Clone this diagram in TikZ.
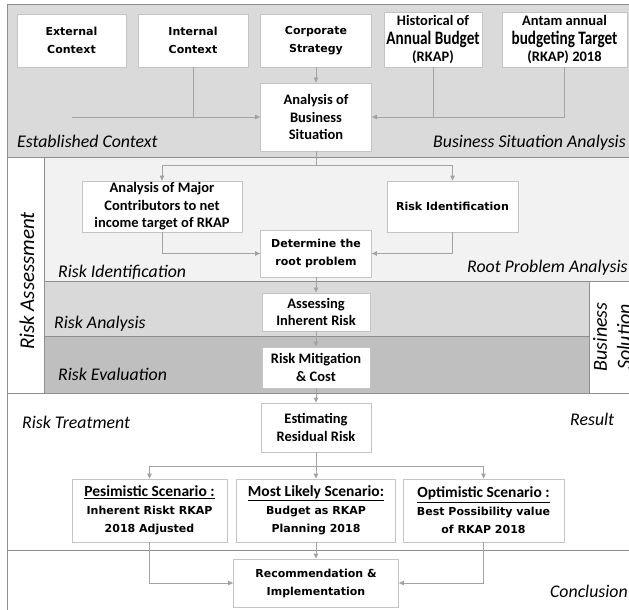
\documentclass[tikz,border=0pt]{standalone}
\usepackage{fontspec}
\setmainfont{Carlito}
\newfontfamily\tahfont{DejaVu Sans}
\usetikzlibrary{arrows.meta, positioning, calc}

\definecolor{bandtop}{HTML}{DADADA}
\definecolor{bandri}{HTML}{F2F2F2}
\definecolor{bandra}{HTML}{D9D9D9}
\definecolor{bandre}{HTML}{BFBFBF}
\definecolor{boxgray}{HTML}{C4C4C4}
\definecolor{linegray}{HTML}{A3A3A3}
\definecolor{bandline}{HTML}{8E8E8E}

\begin{document}
\begin{tikzpicture}[x=1pt, y=-1pt, >={Triangle[length=5pt,width=4.5pt]},
        box/.style={draw=boxgray, fill=white, line width=0.8pt, align=center, inner sep=0pt},
        cal/.style={font=\fontsize{14.5}{17.5}\selectfont\bfseries},
        tah/.style={font=\tahfont\fontsize{11}{18}\selectfont\bfseries},
        lab/.style={font=\fontsize{17.8}{20}\selectfont\itshape, inner sep=0pt},
        conn/.style={draw=linegray, line width=0.8pt},
        band/.style={draw=bandline, line width=0.8pt}]
                                \useasboundingbox (0,0) rectangle (629,610);

                                % Draw the bands
                                \fill[bandtop] (7,4) rectangle (629,157);
                                \fill[bandri] (44,157) rectangle (629,281);
                                \fill[bandra] (44,281) rectangle (589,336);
                                \fill[bandre] (44,336) rectangle (589,393);
                                \fill[white] (589,281) rectangle (629,393);
                                \draw[band] (7,4) -- (629,4);
                                \draw[band] (7,4) -- (7,610);
                                \draw[band] (7,157) -- (629,157);
                                \draw[band] (44,157) -- (44,393);
                                \draw[band] (44,281) -- (629,281);
                                \draw[band] (44,336) -- (589,336);
                                \draw[band] (7,393) -- (629,393);
                                \draw[band] (589,281) -- (589,393);
                                \draw[band] (7,550) -- (629,550);

                                % Band labels
                                \node[lab, anchor=base west] (lEst) at (17,147) {Established Context};
                                \node[lab, anchor=base west] (lBsa) at (433,147) {Business Situation Analysis};
                                \node[lab, anchor=base west] (lRid) at (58,277) {Risk Identification};
                                \node[lab, anchor=base west] (lRpa) at (467,272) {Root Problem Analysis};
                                \node[lab, anchor=base west] (lRan) at (54,328) {Risk Analysis};
                                \node[lab, anchor=base west] (lRev) at (58,380) {Risk Evaluation};
                                \node[lab, anchor=base west] (lRtr) at (22,428) {Risk Treatment};
                                \node[lab, anchor=base west] (lRes) at (570,425) {Result};
                                \node[lab, anchor=base west] (lCon) at (550,597) {Conclusion};
                                \node[lab, font=\fontsize{21}{24}\selectfont\itshape, rotate=90] (lRas) at (27,281) {Risk Assessment};
                                \node[lab, font=\fontsize{20}{24}\selectfont\itshape, rotate=90, align=center] (lBso) at (612,337) {Business\\Solution};

                                % Define the nodes
                                \node[box, tah, minimum width=109pt, minimum height=53pt] (ext) at (71.5,40.5) {External\\Context};
                                \node[box, tah, minimum width=110pt, minimum height=53pt] (int) at (193,40.5) {Internal\\Context};
                                \node[box, tah, minimum width=111pt, minimum height=53pt] (cor) at (316,40.5) {Corporate\\Strategy};
                                \node[box, cal, minimum width=98pt, minimum height=55pt] (his) at (433,39.5)
                                        {Historical of\\[1.5pt]{\fontsize{19}{19}\selectfont\scalebox{0.8}[1]{Annual Budget}}\\(RKAP)};
                                \node[box, cal, minimum width=125pt, minimum height=55pt] (ant) at (564.5,39.5)
                                        {Antam annual\\[1.5pt]{\fontsize{19}{19}\selectfont\scalebox{0.8}[1]{budgeting Target}}\\(RKAP) 2018};
                                \node[box, cal, minimum width=111pt, minimum height=68pt] (ana) at (316,117) {Analysis of\\Business\\Situation};
                                \node[box, cal, minimum width=160pt, minimum height=51pt] (maj) at (162,206.5)
                                        {Analysis of Major\\Contributors to net\\income target of RKAP};
                                \node[box, tah, minimum width=131pt, minimum height=51pt] (rid) at (452.5,206.5) {Risk Identification};
                                \node[box, tah, minimum width=111pt, minimum height=47pt] (det) at (316,253.5) {Determine the\\root problem};
                                \node[box, cal, minimum width=108pt, minimum height=38pt] (ass) at (316,312) {Assessing\\Inherent Risk};
                                \node[box, cal, minimum width=108pt, minimum height=41pt] (mit) at (316,367.5) {Risk Mitigation\\\& Cost};
                                \node[box, cal, minimum width=110pt, minimum height=49pt] (est) at (316,427.5) {Estimating\\Residual Risk};
                                \node[box, tah, minimum width=155pt, minimum height=63pt] (pes) at (149.5,510.5)
                                        {{\rmfamily\fontsize{15.5}{18}\selectfont\underline{Pesimistic Scenario :}}\\Inherent Riskt RKAP\\2018 Adjusted};
                                \node[box, tah, minimum width=159pt, minimum height=63pt] (mos) at (316,510.5)
                                        {{\rmfamily\fontsize{15.5}{18}\selectfont\underline{Most Likely Scenario:}}\\Budget as RKAP\\Planning 2018};
                                \node[box, tah, minimum width=161pt, minimum height=63pt] (opt) at (483.5,510.5)
                                        {{\rmfamily\fontsize{15.5}{18}\selectfont\underline{Optimistic Scenario :}}\\Best Possibility value\\of RKAP 2018};
                                \node[box, tah, minimum width=165pt, minimum height=48pt] (rec) at (316,583) {Recommendation \&\\Implementation};

                                \coordinate (sp1) at (ana.south |- 0,165);
                                \coordinate (sp2) at (est.south |- 0,466);

                                % Draw the edges
                                \draw[conn,->] (cor) -- (ana);
                                \draw[conn] (int) -- (int.south |- ana.west);
                                \draw[conn,->] (ext.south |- ana.west) -- (ana.west);
                                \draw[conn] (his) -- (his.south |- ana.east);
                                \draw[conn,->] (ant.south) |- (ana.east);
                                \draw[conn] (ana) -- (sp1);
                                \draw[conn,->] (sp1) -| (maj);
                                \draw[conn,->] (sp1) -| (rid);
                                \draw[conn,->] (maj) |- (det);
                                \draw[conn,->] (rid) |- (det);
                                \draw[conn,->] (det) -- (ass);
                                \draw[conn,->] (ass) -- (mit);
                                \draw[conn,->] (mit) -- (est);
                                \draw[conn] (est) -- (sp2);
                                \draw[conn,->] (sp2) -| (pes);
                                \draw[conn,->] (sp2) -- (mos);
                                \draw[conn,->] (sp2) -| (opt);
                                \draw[conn,->] (mos) -- (rec);
                                \draw[conn,->] (pes) |- (rec);
                                \draw[conn,->] (opt) |- (rec);
                        \end{tikzpicture}
\end{document}
